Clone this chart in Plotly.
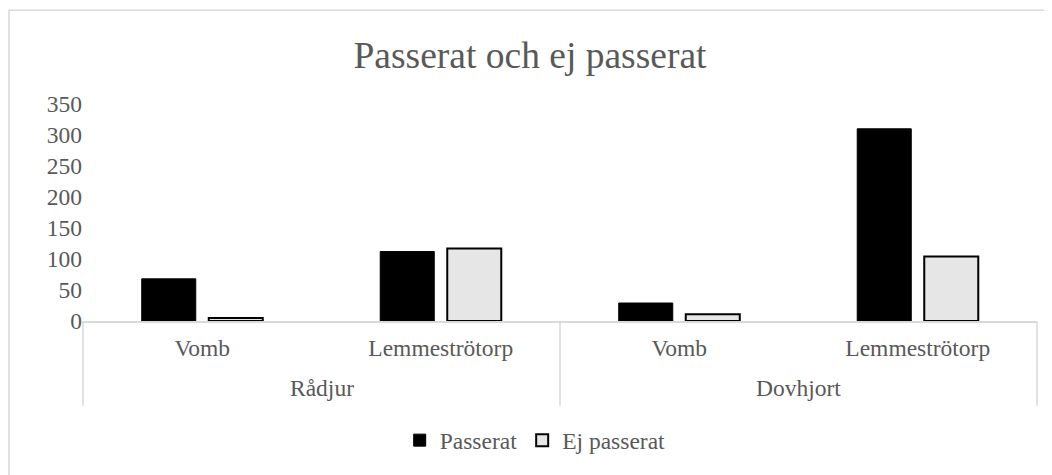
import plotly.graph_objects as go

species = ["Rådjur", "Rådjur", "Dovhjort", "Dovhjort"]
sites = ["Vomb", "Lemmeströtorp", "Vomb", "Lemmeströtorp"]
passerat = [68, 112, 29, 310]
ej_passerat = [5, 117, 11, 104]
y_ticks = [0, 50, 100, 150, 200, 250, 300, 350]
groups = ["Rådjur", "Dovhjort"]

FONT = "Liberation Serif, Times New Roman, serif"
GRAY = "#595959"
LINE = "#D9D9D9"
FS = 23.5

keys = [f"{sp}|{si}" for sp, si in zip(species, sites)]

# the page body adds an 8px offset; work in reference pixel coords
OFF = 8
W, H = 1052 - OFF, 475 - OFF
L, T = 83 - OFF, 104 - OFF
R = W - (1037 - OFF)
B = H - (324 - OFF)
pw, ph = W - L - R, H - T - B


def px_y(py):
    return (H - B - (py - OFF)) / ph


def px_x(px):
    return ((px - OFF) - L) / pw


fig = go.Figure()
fig.add_trace(go.Bar(
    x=keys, y=passerat, name="Passerat",
    marker=dict(color="#000000", line=dict(color="#000000", width=1)),
))
fig.add_trace(go.Bar(
    x=keys, y=ej_passerat, name="Ej passerat",
    marker=dict(color="#E6E6E6", line=dict(color="#000000", width=2)),
))

fig.update_layout(
    width=W, height=H,
    paper_bgcolor="white", plot_bgcolor="white",
    margin=dict(l=L, r=R, t=T, b=B),
    barmode="group", bargap=0.438, bargroupgap=0.194,
    font=dict(family=FONT, size=FS, color=GRAY),
    title=dict(text="Passerat och ej passerat", x=0.5, xanchor="center",
               y=1 - 47 / H, yanchor="middle",
               font=dict(family=FONT, size=37.5, color=GRAY)),
    legend=dict(orientation="h", x=0.474, xanchor="center", y=px_y(445), yanchor="middle",
                font=dict(family=FONT, size=FS, color=GRAY),
                itemwidth=30, traceorder="normal"),
    showlegend=True,
)
fig.update_yaxes(range=[0, 350], tickvals=y_ticks, showgrid=False, zeroline=False,
                 showline=False, ticks="", automargin=False,
                 tickfont=dict(family=FONT, size=FS, color=GRAY))
fig.update_xaxes(type="category", tickvals=keys, ticktext=sites,
                 showline=True, linecolor=LINE, linewidth=1.5, showgrid=False,
                 ticks="", automargin=False, ticklabelstandoff=5,
                 tickfont=dict(family=FONT, size=FS, color=GRAY))

# outer category labels
for i, g in enumerate(groups):
    fig.add_annotation(text=g, xref="paper", yref="paper", x=0.25 + 0.5 * i, y=px_y(392),
                       xanchor="center", yanchor="middle", showarrow=False,
                       font=dict(family=FONT, size=FS, color=GRAY))

# dividers
for xd in [0, 0.5, 1]:
    fig.add_shape(type="line", xref="paper", yref="paper", x0=xd, x1=xd,
                  y0=0, y1=px_y(410), line=dict(color=LINE, width=1.5))

# chart border
fig.add_shape(type="rect", xref="paper", yref="paper",
              x0=px_x(9), x1=px_x(1062), y0=px_y(485), y1=px_y(9),
              line=dict(color=LINE, width=1.5), fillcolor="rgba(0,0,0,0)", layer="below")

fig.write_html("out.html")
